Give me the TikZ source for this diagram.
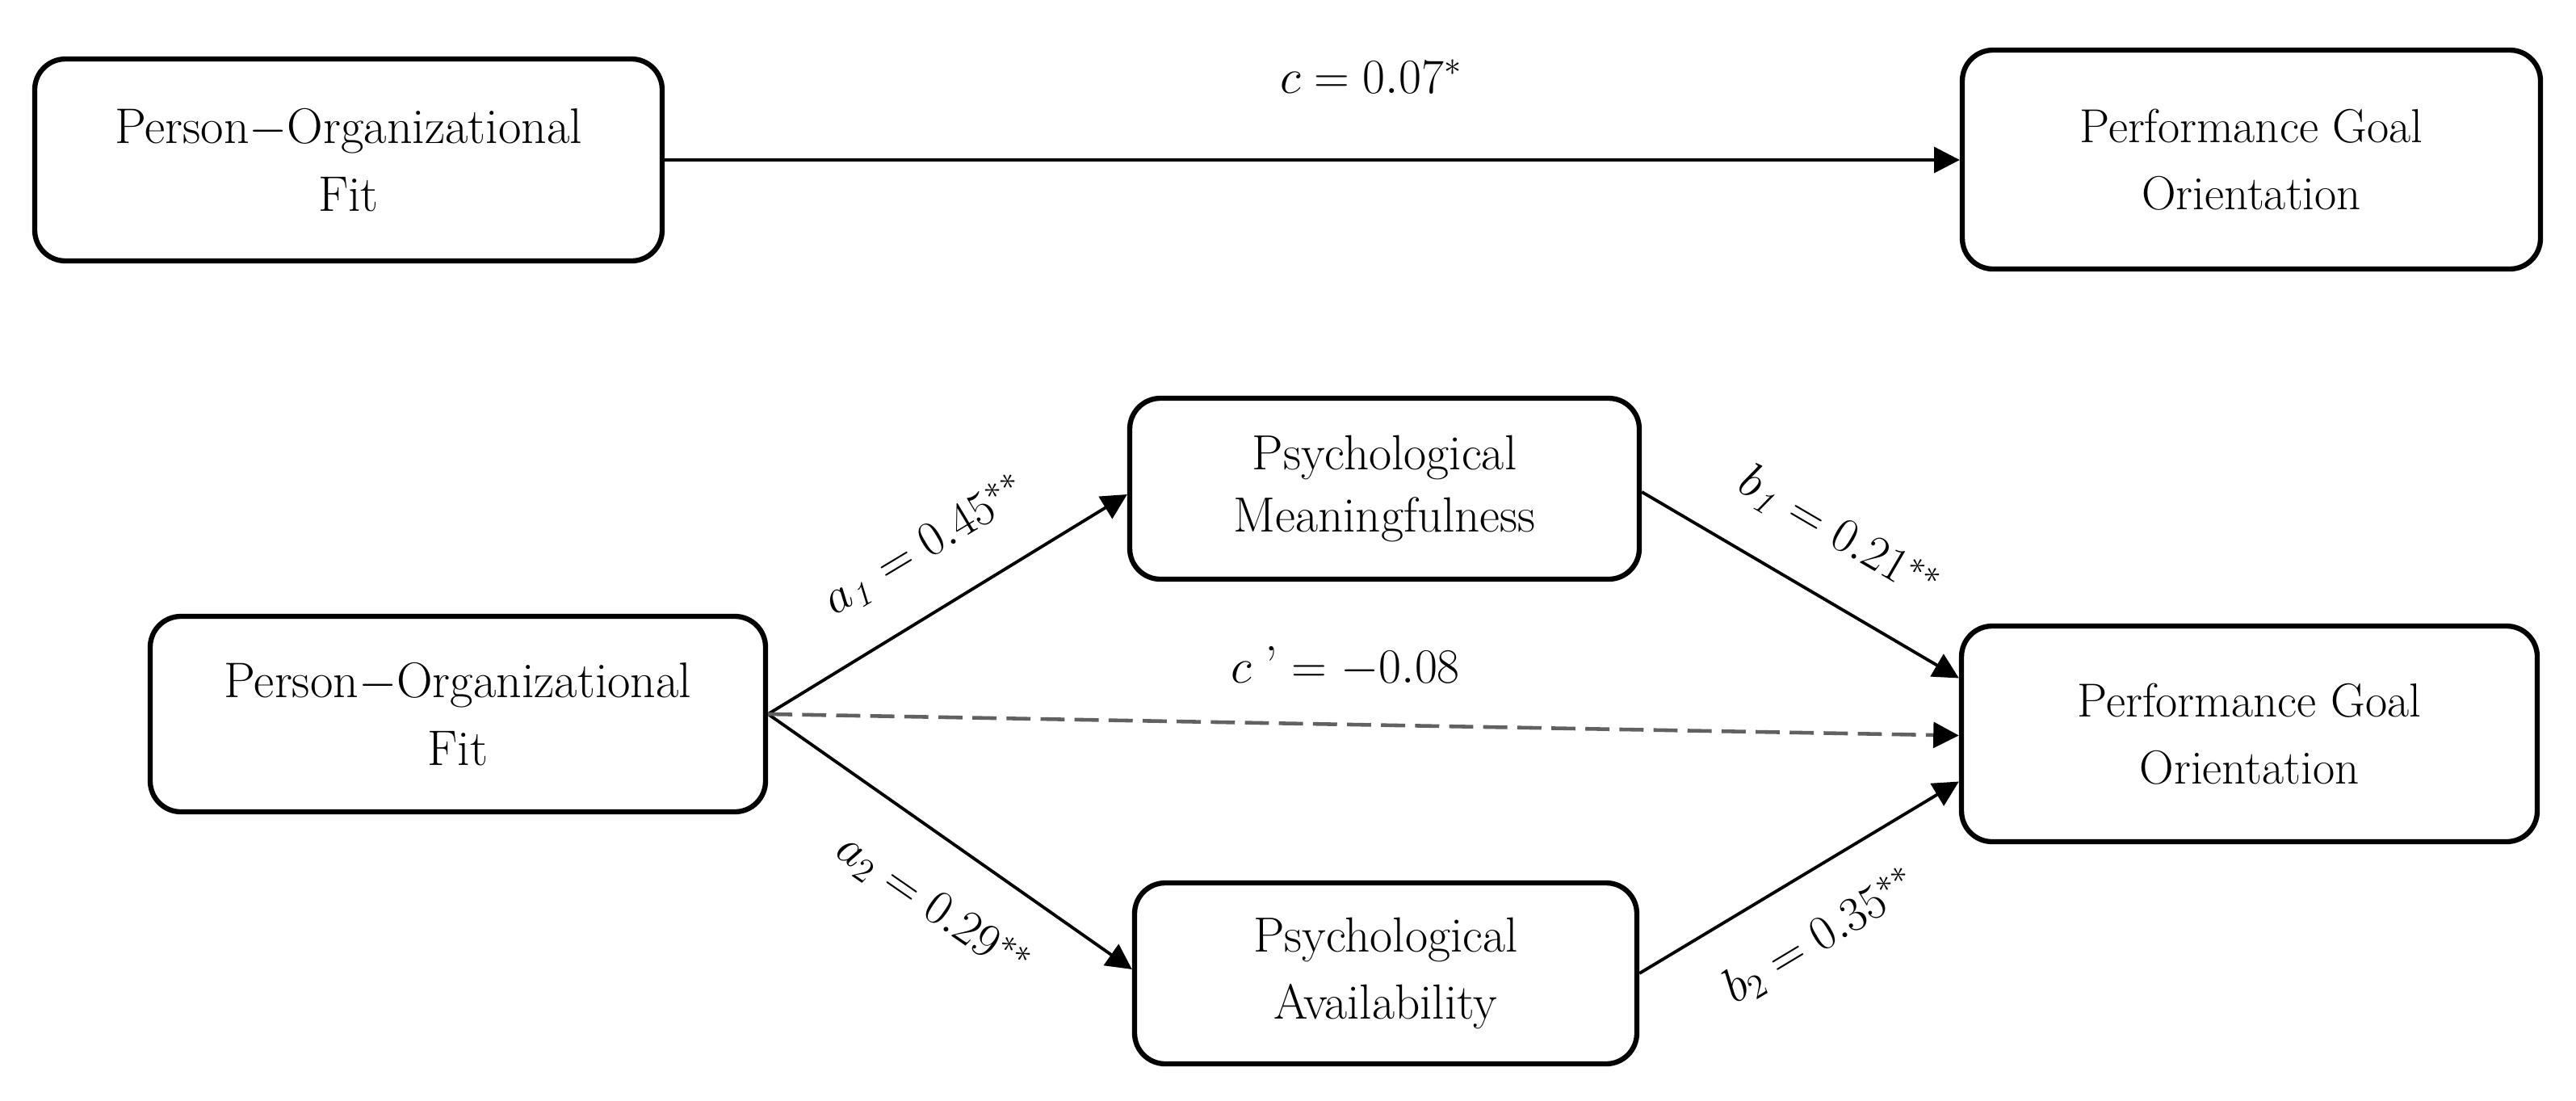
\documentclass[tikz,border=0pt]{standalone}
\usetikzlibrary{arrows.meta,calc}
\begin{document}
\begin{tikzpicture}[
  x=1cm,y=1cm,
  box/.style={draw, line width=1.8pt, rounded corners=0.38cm, align=center, inner sep=0pt},
  bigtxt/.style={font=\fontsize{17.6}{24}\selectfont},
  pgotxt/.style={font=\fontsize{16.8}{23.6}\selectfont},
  psytxt/.style={font=\fontsize{17.4}{21.8}\selectfont},
  arr/.style={line width=1.1pt, -{Triangle[length=9pt,width=9pt]}},
  dasharr/.style={line width=1.3pt, draw=black!62, dash pattern=on 8.5pt off 3.5pt, -{Triangle[length=9pt,width=9pt,color=black]}},
  lab/.style={font=\fontsize{18.5}{22}\selectfont, inner sep=0pt}
]
\useasboundingbox (0,0) rectangle (31.90,-13.62);
\node[box, bigtxt, minimum width=7.77cm, minimum height=2.50cm] (po1) at (4.315,-1.98) {Person$-$Organizational\\Fit};
\node[box, pgotxt, minimum width=7.16cm, minimum height=2.71cm] (pgo1) at (27.88,-1.975) {Performance Goal\\Orientation};
\node[box, bigtxt, minimum width=7.62cm, minimum height=2.42cm] (po2) at (5.67,-8.84) {Person$-$Organizational\\Fit};
\node[box, psytxt, minimum width=6.31cm, minimum height=2.24cm] (pm) at (17.145,-6.05) {Psychological\\Meaningfulness};
\node[box, bigtxt, font=\fontsize{17.4}{23.4}\selectfont, minimum width=6.22cm, minimum height=2.24cm] (pa) at (17.16,-12.05) {Psychological\\Availability};
\node[box, pgotxt, minimum width=7.13cm, minimum height=2.67cm] (pgo2) at (27.855,-9.085) {Performance Goal\\Orientation};

\coordinate (a1e) at ($(pm.west)+(0,-0.07)$);
\coordinate (a2e) at ($(pa.west)+(0,0.05)$);
\coordinate (b1s) at ($(pm.east)+(0,-0.04)$);
\coordinate (b2s) at (pa.east);
\coordinate (b1e) at ($(pgo2.west)+(0,0.69)$);
\coordinate (b2e) at ($(pgo2.west)+(0,-0.59)$);
\coordinate (ce) at ($(pgo2.west)+(0,-0.02)$);

\draw[arr] (po1.east) -- (po1.east -| pgo1.west);
\draw[arr] (po2.east) -- (a1e);
\draw[arr] (po2.east) -- (a2e);
\draw[dasharr] (po2.east) -- (ce);
\draw[arr] (b1s) -- (b1e);
\draw[arr] (b2s) -- (b2e);

\node[lab] (lc) at (16.98,-0.95) {$c = 0.07^{*}$};
\node[lab, rotate=31] (la1) at (11.46,-6.76) {$a_{\mathit{1}} = 0.45^{**}$};
\node[lab, rotate=-34.7] (la2) at (11.55,-11.23) {$a_{2} = 0.29^{**}$};
\node[lab, rotate=-30.3] (lb1) at (22.77,-6.62) {$b_{\mathit{1}} = 0.21^{**}$};
\node[lab, rotate=31] (lb2) at (22.55,-11.60) {$b_{2} = 0.35^{**}$};
\node[lab] (lcp) at (16.66,-8.25) {$c\;\mbox{’} = -0.08$};
\end{tikzpicture}
\end{document}
